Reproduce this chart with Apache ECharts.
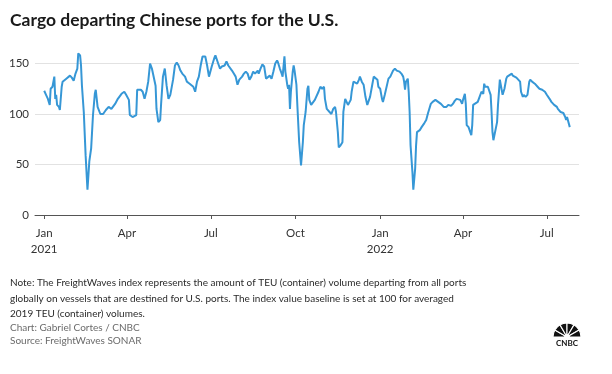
<!DOCTYPE html>
<html>
<head>
<meta charset="utf-8">
<script src="https://cdn.jsdelivr.net/npm/echarts@6/dist/echarts.min.js"></script>
<style>
html,body{margin:0;padding:0;background:#fff;}
#chart{width:612px;height:374px;}
</style>
</head>
<body>
<div id="chart"></div>
<script>
var title = 'Cargo departing Chinese ports for the U.S.';
var noteLines = [
  'Note: The FreightWaves index represents the amount of TEU (container) volume departing from all ports',
  'globally on vessels that are destined for U.S. ports. The index value baseline is set at 100 for averaged',
  '2019 TEU (container) volumes.'
];
var creditLines = ['Chart: Gabriel Cortes / CNBC', 'Source: FreightWaves SONAR'];

var tickDates = ['2021-01-01','2021-04-01','2021-07-01','2021-10-01','2022-01-01','2022-04-01','2022-07-01'];
var tickLabels = ['Jan\n2021','Apr','Jul','Oct','Jan\n2022','Apr','Jul'];
var axisStart = '2020-12-22';
var axisEnd = '2022-08-05';
var yTicks = [0, 50, 100, 150];

var dates = [
'2021-01-01','2021-01-03','2021-01-05','2021-01-07','2021-01-08','2021-01-10','2021-01-12','2021-01-13','2021-01-14','2021-01-15',
'2021-01-17','2021-01-18','2021-01-20','2021-01-21','2021-01-25','2021-01-29','2021-01-31','2021-02-02','2021-02-04','2021-02-06',
'2021-02-07','2021-02-09','2021-02-10','2021-02-11','2021-02-13','2021-02-15','2021-02-17','2021-02-19','2021-02-21','2021-02-23',
'2021-02-25','2021-02-26','2021-02-28','2021-03-03','2021-03-06','2021-03-09','2021-03-12','2021-03-15','2021-03-19','2021-03-22',
'2021-03-26','2021-03-29','2021-03-31','2021-04-03','2021-04-04','2021-04-07','2021-04-11','2021-04-12','2021-04-16','2021-04-18',
'2021-04-20','2021-04-22','2021-04-24','2021-04-26','2021-04-28','2021-04-29','2021-05-02','2021-05-03','2021-05-05','2021-05-07',
'2021-05-08','2021-05-10','2021-05-12','2021-05-14','2021-05-16','2021-05-18','2021-05-21','2021-05-23','2021-05-25','2021-05-27',
'2021-05-29','2021-05-31','2021-06-03','2021-06-05','2021-06-08','2021-06-10','2021-06-12','2021-06-14','2021-06-16','2021-06-18',
'2021-06-20','2021-06-22','2021-06-25','2021-06-27','2021-06-29','2021-07-02','2021-07-05','2021-07-06','2021-07-09','2021-07-11',
'2021-07-13','2021-07-16','2021-07-18','2021-07-20','2021-07-22','2021-07-24','2021-07-26','2021-07-28','2021-07-30','2021-08-01',
'2021-08-04','2021-08-06','2021-08-08','2021-08-10','2021-08-12','2021-08-14','2021-08-16','2021-08-18','2021-08-21','2021-08-22',
'2021-08-24','2021-08-26','2021-08-28','2021-08-30','2021-09-01','2021-09-03','2021-09-05','2021-09-07','2021-09-09','2021-09-11',
'2021-09-12','2021-09-14','2021-09-16','2021-09-17','2021-09-19','2021-09-20','2021-09-22','2021-09-23','2021-09-24','2021-09-25',
'2021-09-26','2021-09-28','2021-09-29','2021-09-30','2021-10-02','2021-10-03','2021-10-05','2021-10-07','2021-10-09','2021-10-10',
'2021-10-12','2021-10-14','2021-10-15','2021-10-16','2021-10-18','2021-10-20','2021-10-22','2021-10-24','2021-10-26','2021-10-28',
'2021-10-30','2021-11-01','2021-11-02','2021-11-04','2021-11-07','2021-11-09','2021-11-11','2021-11-13','2021-11-14','2021-11-16',
'2021-11-17','2021-11-19','2021-11-21','2021-11-22','2021-11-24','2021-11-25','2021-11-27','2021-11-30','2021-12-01','2021-12-03',
'2021-12-05','2021-12-07','2021-12-09','2021-12-10','2021-12-12','2021-12-14','2021-12-16','2021-12-18','2021-12-20','2021-12-21',
'2021-12-23','2021-12-25','2021-12-27','2021-12-29','2021-12-30','2022-01-01','2022-01-03','2022-01-04','2022-01-06','2022-01-07',
'2022-01-10','2022-01-12','2022-01-15','2022-01-17','2022-01-19','2022-01-22','2022-01-24','2022-01-26','2022-01-27','2022-01-28',
'2022-01-29','2022-01-31','2022-02-01','2022-02-02','2022-02-03','2022-02-05','2022-02-06','2022-02-08','2022-02-09','2022-02-10',
'2022-02-13','2022-02-15','2022-02-18','2022-02-20','2022-02-22','2022-02-23','2022-02-25','2022-02-27','2022-03-02','2022-03-04',
'2022-03-05','2022-03-08','2022-03-11','2022-03-14','2022-03-16','2022-03-19','2022-03-21','2022-03-23','2022-03-25','2022-03-27',
'2022-03-29','2022-03-31','2022-04-01','2022-04-03','2022-04-04','2022-04-05','2022-04-07','2022-04-09','2022-04-10','2022-04-11',
'2022-04-12','2022-04-14','2022-04-17','2022-04-19','2022-04-21','2022-04-23','2022-04-24','2022-04-25','2022-04-28','2022-04-29',
'2022-05-01','2022-05-02','2022-05-03','2022-05-04','2022-05-06','2022-05-08','2022-05-09','2022-05-11','2022-05-12','2022-05-14',
'2022-05-16','2022-05-18','2022-05-19','2022-05-21','2022-05-24','2022-05-25','2022-05-27','2022-05-29','2022-05-31','2022-06-02',
'2022-06-03','2022-06-05','2022-06-06','2022-06-08','2022-06-10','2022-06-12','2022-06-13','2022-06-15','2022-06-18','2022-06-21',
'2022-06-23','2022-06-26','2022-06-29','2022-07-01','2022-07-04','2022-07-06','2022-07-09','2022-07-12','2022-07-13','2022-07-16',
'2022-07-17','2022-07-19','2022-07-21','2022-07-22','2022-07-23','2022-07-24','2022-07-26'
];

var values = [
123,119,115,109,125,127,137,115,119,109,
107,104,127,132,135,138,136,133,140,145,
160,158,148,128,102,59,25,53,66,99,
120,124,107,100,100,104,107,105,110,115,
120,122,119,114,99,97,99,124,124,122,
115,122,132,150,145,144,128,105,92,94,
110,137,145,128,115,119,134,148,151,148,
143,140,137,132,130,129,127,122,132,137,
148,157,157,148,137,147,156,158,150,145,
147,148,152,148,148,143,140,137,129,134,
137,140,142,140,134,137,142,140,143,140,
145,149,147,135,134,138,135,142,150,153,
151,145,140,137,157,142,129,125,129,105,
122,142,148,143,129,109,72,49,72,89,
102,125,128,114,109,110,114,115,122,127,
125,127,115,105,102,100,105,107,102,82,
67,69,72,102,115,114,109,114,122,132,
133,130,134,137,132,129,117,109,110,117,
127,137,138,134,127,125,115,112,119,119,
135,137,143,145,143,142,140,137,132,124,
132,135,122,102,69,43,25,46,69,82,
84,87,91,94,101,104,110,112,114,114,
112,110,107,107,109,108,110,113,115,116,
114,110,114,120,110,89,87,87,79,89,
109,110,112,117,122,120,130,127,127,127,
119,102,82,74,74,92,109,134,135,119,
125,135,137,138,140,138,139,136,135,132,
122,117,119,117,119,132,134,132,130,127,
125,124,122,119,115,112,109,107,105,102,
101,101,97,94,97,96,87
];

var DAY = 86400000;
var origin = Date.parse('2021-01-01');
function dayOf(d){ return Math.round((Date.parse(d) - origin) / DAY); }

var seriesData = dates.map(function(d, i){ return [dayOf(d), values[i]]; });
var tickDays = tickDates.map(dayOf);
var labelMap = {};
tickDays.forEach(function(d, i){ labelMap[d] = tickLabels[i]; });

var FONT = 'Lato';
var chart = echarts.init(document.getElementById('chart'), null, {renderer: 'canvas'});

var graphics = [
  {type:'text', left:10, top:11.5, style:{text:title, font:'bold 17.5px ' + FONT, fill:'#1a1a1a'}}
];
var noteY = [283, 298.5, 313.5];
noteLines.forEach(function(t, i){
  graphics.push({type:'text', x:10, y:noteY[i], style:{text:t, font:'10px ' + FONT, fill:'#2b2b2b', textVerticalAlign:'middle'}});
});
var creditY = [327.5, 341];
creditLines.forEach(function(t, i){
  graphics.push({type:'text', x:10, y:creditY[i], style:{text:t, font:'10px ' + FONT, fill:'#6b6b6b', textVerticalAlign:'middle'}});
});
// CNBC peacock mark
var pcx = 567, pcy = 337, nF = 6;
var feathers = [];
for (var k = 0; k < nF; k++) {
  var a0 = Math.PI + k * Math.PI / nF, a1 = Math.PI + (k + 1) * Math.PI / nF;
  feathers.push({type:'sector', shape:{cx:pcx, cy:pcy, r0:2.5, r:14, startAngle:a0, endAngle:a1},
    style:{fill:'#111', stroke:'#fff', lineWidth:1.1}});
}
feathers.push({type:'circle', shape:{cx:pcx, cy:pcy, r:2.5}, style:{fill:'#fff'}});
feathers.push({type:'text', x:pcx, y:pcy + 6, style:{text:'CNBC', font:'bold 8px ' + FONT, fill:'#111', textAlign:'center', textVerticalAlign:'middle'}});
graphics.push({type:'group', children:feathers});

chart.setOption({
  animation: false,
  backgroundColor: '#ffffff',
  grid: {left: 35, right: 33, top: 63.5, bottom: 159, containLabel: false},
  xAxis: {
    type: 'value',
    min: dayOf(axisStart),
    max: dayOf(axisEnd),
    splitLine: {show: false},
    axisLine: {show: true, lineStyle: {color: '#555', width: 1}},
    axisTick: {show: true, length: 4, lineStyle: {color: '#555'}, customValues: tickDays},
    axisLabel: {
      customValues: tickDays,
      formatter: function(v){ return labelMap[v] || ''; },
      color: '#333', fontFamily: FONT, fontSize: 11.5, lineHeight: 16, margin: 10
    }
  },
  yAxis: {
    type: 'value',
    min: 0, max: 150, interval: 50,
    axisLine: {show: false},
    axisTick: {show: false},
    axisLabel: {color: '#333', fontFamily: FONT, fontSize: 11.5, margin: 6,
      formatter: function(v){ return yTicks.indexOf(v) >= 0 ? String(v) : ''; }},
    splitLine: {show: true, lineStyle: {color: '#e2e2e2', width: 1}}
  },
  series: [{
    type: 'line',
    data: seriesData,
    showSymbol: false,
    clip: false,
    lineStyle: {color: '#3697d6', width: 2},
    itemStyle: {color: '#3697d6'}
  }],
  graphic: graphics
});
</script>
</body>
</html>
